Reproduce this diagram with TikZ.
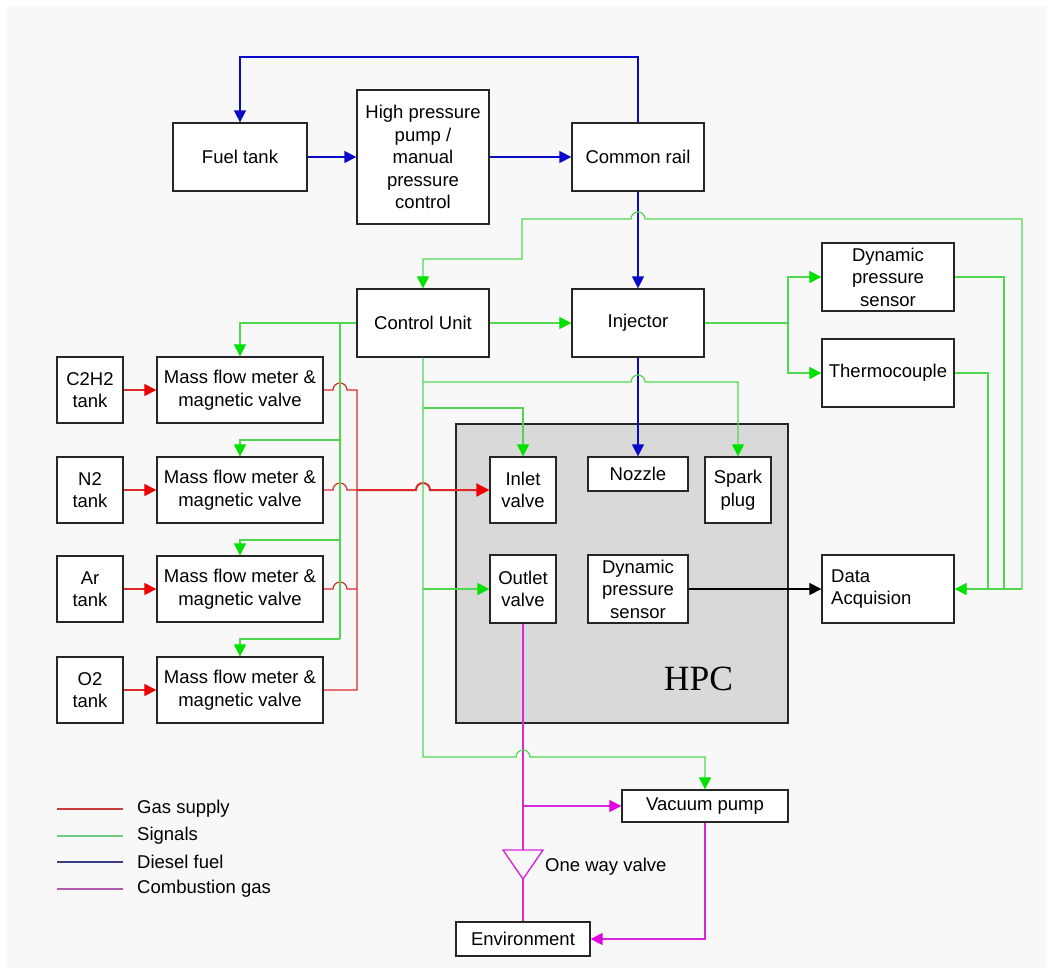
\documentclass[tikz,border=0pt]{standalone}
\usepackage{fontspec}
\setmainfont{Liberation Sans}
\newfontfamily\hpcserif{Liberation Serif}
\usetikzlibrary{arrows.meta}
\definecolor{gasred}{RGB}{220,40,40}
\definecolor{gasredtip}{RGB}{240,0,0}
\definecolor{siggreen}{RGB}{80,215,80}
\definecolor{siggreentip}{RGB}{0,225,0}
\definecolor{fuelblue}{RGB}{10,10,200}
\definecolor{combmag}{RGB}{215,40,215}
\definecolor{combmagtip}{RGB}{225,0,225}
\definecolor{bgc}{RGB}{248,248,248}
\definecolor{hpcgray}{RGB}{217,217,217}
\definecolor{legred}{RGB}{200,60,60}
\definecolor{leggreen}{RGB}{110,205,130}
\definecolor{legblue}{RGB}{60,60,130}
\definecolor{legmag}{RGB}{175,90,175}
\tikzset{
 box/.style={draw=black!85, line width=1.3pt, fill=white, inner sep=0pt, align=center,
   font=\fontsize{18.5}{22.5}\selectfont},
 lbl/.style={inner sep=0pt, font=\fontsize{18.5}{22.5}\selectfont},
 gas/.style={draw=gasred, line width=1.2pt},
 gastip/.style={gas, -{Triangle[length=12pt,width=12pt,color=gasredtip]}},
 sig/.style={draw=siggreen, line width=1.2pt},
 sigtip/.style={sig, -{Triangle[length=12pt,width=12pt,color=siggreentip]}},
 fuel/.style={draw=fuelblue, line width=1.3pt},
 fueltip/.style={fuel, -{Triangle[length=12pt,width=12pt]}},
 comb/.style={draw=combmag, line width=1.4pt},
 combtip/.style={comb, -{Triangle[length=12pt,width=12pt,color=combmagtip]}},
}
\begin{document}
\begin{tikzpicture}[x=1pt,y=-1pt]
\useasboundingbox (0,0) rectangle (1054,974);
\fill[white] (0,0) rectangle (1054,974);
\fill[bgc] (7,6) rectangle (1047,968);

% HPC chamber
\node[draw=black!85, line width=1.3pt, fill=hpcgray, minimum width=332pt, minimum height=299pt, inner sep=0pt] (hpc) at (622,573.5) {};
\node[anchor=base, inner sep=0pt, font=\hpcserif\fontsize{35.5}{40}\selectfont] (hpctext) at (698.5,690) {HPC};

% boxes
\node[box, minimum width=134pt, minimum height=68pt] (ft) at (240,157) {Fuel tank};
\node[box, minimum width=132pt, minimum height=134pt] (hp) at (423,157) {High pressure\\pump /\\manual\\pressure\\control};
\node[box, minimum width=132pt, minimum height=68pt] (cr) at (638,157) {Common rail};
\node[box, minimum width=132pt, minimum height=68pt] (cu) at (423,323) {Control Unit};
\node[box, minimum width=132pt, minimum height=68pt] (inj) at (638,323) {Injector};
\node[box, minimum width=132pt, minimum height=68pt] (dps) at (888,277) {Dynamic\\pressure\\sensor};
\node[box, minimum width=132pt, minimum height=68pt] (tc) at (888,373) {Thermocouple};
\node[box, minimum width=132pt, minimum height=68pt] (da) at (888,589) {};
\node[lbl, anchor=west, align=left] (datext) at (831,589) {Data\\Acquision};

\node[box, minimum width=66pt, minimum height=66pt] (t1) at (90,390) {C2H2\\tank};
\node[box, minimum width=66pt, minimum height=66pt] (t2) at (90,490) {N2\\tank};
\node[box, minimum width=66pt, minimum height=66pt] (t3) at (90,589) {Ar\\tank};
\node[box, minimum width=66pt, minimum height=66pt] (t4) at (90,690) {O2\\tank};
\node[box, minimum width=166pt, minimum height=66pt] (m1) at (240,390) {Mass flow meter \&\\magnetic valve};
\node[box, minimum width=166pt, minimum height=66pt] (m2) at (240,490) {Mass flow meter \&\\magnetic valve};
\node[box, minimum width=166pt, minimum height=66pt] (m3) at (240,589) {Mass flow meter \&\\magnetic valve};
\node[box, minimum width=166pt, minimum height=66pt] (m4) at (240,690) {Mass flow meter \&\\magnetic valve};

\node[box, minimum width=66pt, minimum height=66pt] (inlet) at (523,490) {Inlet\\valve};
\node[box, minimum width=100pt, minimum height=34pt] (nozzle) at (638,474) {Nozzle};
\node[box, minimum width=66pt, minimum height=66pt] (spark) at (738,490) {Spark\\plug};
\node[box, minimum width=66pt, minimum height=68pt] (outlet) at (523,589) {Outlet\\valve};
\node[box, minimum width=100pt, minimum height=68pt] (hdps) at (638,589) {Dynamic\\pressure\\sensor};
\node[box, minimum width=166pt, minimum height=32pt] (vp) at (705,806) {Vacuum pump};
\node[box, minimum width=134pt, minimum height=34pt] (env) at (523,939) {Environment};
\node[lbl, anchor=west] (owvtext) at (545,867) {One way valve};

% diesel fuel
\draw[fueltip] (cr.north) -- (638,57) -| (ft.north);
\draw[fueltip] (ft.east) -- (hp.west);
\draw[fueltip] (hp.east) -- (cr.west);
\draw[fueltip] (cr.south) -- (inj.north);
\draw[fueltip] (inj.south) -- (nozzle.north);

% combustion gas
\coordinate (owvtop) at (523,850);
\coordinate (owvtip) at (523,879);
\coordinate (vpbranch) at (523,806);
\draw[comb] (outlet.south) -- (owvtop);
\draw[comb] (503,850) -- (543,850) -- (owvtip) -- cycle;
\draw[comb] (owvtip) -- (env.north);
\draw[combtip] (vpbranch) -- (vp.west);
\draw[combtip] (vp.south) |- (env.east);

% gas supply
\draw[gastip] (t1.east) -- (m1.west);
\draw[gastip] (t2.east) -- (m2.west);
\draw[gastip] (t3.east) -- (m3.west);
\draw[gastip] (t4.east) -- (m4.west);
\coordinate (rj) at (357,490);
\draw[gas] (m1.east) -- (333,390) arc[start angle=180,end angle=0,radius=7pt] -- (357,390) -- (357,690) -- (m4.east);
\draw[gas] (m2.east) -- (333,490) arc[start angle=180,end angle=0,radius=7pt] -- (rj);
\draw[gas] (m3.east) -- (333,589) arc[start angle=180,end angle=0,radius=7pt] -- (357,589);
\draw[gas, line width=2pt, -{Triangle[length=13pt,width=13pt,color=gasredtip]}] (rj) -- (416,490) arc[start angle=180,end angle=0,radius=7pt] -- (inlet.west);

% signals
\draw[sigtip] (1022,589) -- (1022,219) -- (645,219) arc[start angle=0,end angle=180,radius=7pt] -- (522,219) -- (522,259) -| (cu.north);
\draw[sig] (dps.east) -| (1004,589);
\draw[sig] (tc.east) -| (988,589);
\draw[sigtip] (1022,589) -- (da.east);
\coordinate (injsplit) at (788,323);
\draw[sig] (inj.east) -- (injsplit);
\draw[sigtip] (injsplit) |- (dps.west);
\draw[sigtip] (injsplit) |- (tc.west);
\draw[sigtip] (cu.east) -- (inj.west);
\draw[sigtip] (cu.west) -| (m1.north);
\draw[sig] (340,323) -- (340,639);
\draw[sigtip] (340,440) -| (m2.north);
\draw[sigtip] (340,540) -| (m3.north);
\draw[sigtip] (340,639) -| (m4.north);
\draw[sigtip] (cu.south) -- (423,757) -- (516,757) arc[start angle=180,end angle=0,radius=7pt] -| (vp.north);
\draw[sigtip] (423,382) -- (631,382) arc[start angle=180,end angle=0,radius=7pt] -| (spark.north);
\draw[sigtip] (423,408) -| (inlet.north);
\draw[sigtip] (423,589) -- (outlet.west);

% pressure signal
\draw[line width=1.2pt, -{Triangle[length=12pt,width=12pt]}] (hdps.east) -- (da.west);

% legend
\coordinate (la1) at (57,809); \coordinate (lb1) at (123,809);
\coordinate (la2) at (57,836); \coordinate (lb2) at (123,836);
\coordinate (la3) at (57,862); \coordinate (lb3) at (123,862);
\coordinate (la4) at (57,889); \coordinate (lb4) at (123,889);
\draw[legred, line width=1.2pt] (la1) -- (lb1);
\draw[leggreen, line width=1.2pt] (la2) -- (lb2);
\draw[legblue, line width=1.2pt] (la3) -- (lb3);
\draw[legmag, line width=1.2pt] (la4) -- (lb4);
\node[lbl, anchor=west] (lt1) at (137,809) {Gas supply};
\node[lbl, anchor=west] (lt2) at (137,836) {Signals};
\node[lbl, anchor=west] (lt3) at (137,862) {Diesel fuel};
\node[lbl, anchor=west] (lt4) at (137,889) {Combustion gas};
\end{tikzpicture}
\end{document}
